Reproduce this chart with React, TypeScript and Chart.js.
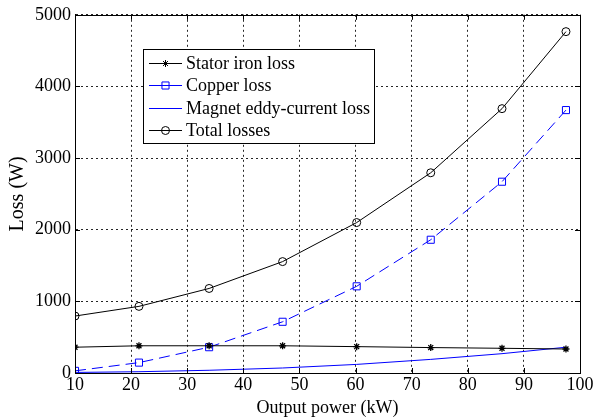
import React, { useEffect, useRef } from "react";
import { Chart, registerables } from "chart.js";

Chart.register(...registerables);

const powerKW = [10, 21.4, 33.9, 47.0, 60.2, 73.4, 86.1, 97.5];
const statorIronLoss = [360, 380, 380, 380, 368, 355, 345, 335];
const copperLoss = [30, 145, 360, 715, 1210, 1860, 2670, 3670];
const magnetEddyLoss = [8, 18, 38, 70, 120, 190, 270, 360];
const totalLosses = [795, 930, 1180, 1555, 2100, 2795, 3690, 4765];

const seriesLabels = [
  "Stator iron loss",
  "Copper loss",
  "Magnet eddy-current loss",
  "Total losses",
];

const xTicks = [10, 20, 30, 40, 50, 60, 70, 80, 90, 100];
const yTicks = [0, 1000, 2000, 3000, 4000, 5000];

const FONT = "'Liberation Serif', 'Times New Roman', serif";

function toPoints(ys: number[]) {
  return ys.map((y, i) => ({ x: powerKW[i], y }));
}

function drawMarker(ctx: CanvasRenderingContext2D, style: string, x: number, y: number, r: number, color: string) {
  ctx.save();
  ctx.strokeStyle = color;
  ctx.lineWidth = 1;
  ctx.setLineDash([]);
  ctx.beginPath();
  if (style === "circle") {
    ctx.arc(x, y, r, 0, Math.PI * 2);
  } else if (style === "rect") {
    const s = r / Math.SQRT2;
    ctx.rect(x - s, y - s, 2 * s, 2 * s);
  } else if (style === "star") {
    ctx.moveTo(x - r, y);
    ctx.lineTo(x + r, y);
    ctx.moveTo(x, y - r);
    ctx.lineTo(x, y + r);
    const d = r * Math.SQRT1_2;
    ctx.moveTo(x - d, y - d);
    ctx.lineTo(x + d, y + d);
    ctx.moveTo(x - d, y + d);
    ctx.lineTo(x + d, y - d);
  }
  ctx.stroke();
  ctx.restore();
}

const framePlugin = {
  id: "frameAndLegend",
  afterDatasetsDraw(chart: any) {
    const { ctx, chartArea, scales } = chart;
    const { left, right, top, bottom } = chartArea;
    ctx.save();
    ctx.strokeStyle = "#000";
    ctx.lineWidth = 1;
    ctx.setLineDash([]);
    // inward ticks
    const tl = 5;
    ctx.beginPath();
    xTicks.forEach((v) => {
      const px = Math.round(scales.x.getPixelForValue(v)) + 0.5;
      ctx.moveTo(px, bottom);
      ctx.lineTo(px, bottom - tl);
      ctx.moveTo(px, top);
      ctx.lineTo(px, top + tl);
    });
    yTicks.forEach((v) => {
      const py = Math.round(scales.y.getPixelForValue(v)) + 0.5;
      ctx.moveTo(left, py);
      ctx.lineTo(left + tl, py);
      ctx.moveTo(right, py);
      ctx.lineTo(right - tl, py);
    });
    ctx.stroke();
    ctx.strokeRect(Math.round(left) + 0.5, Math.round(top) + 0.5, Math.round(right - left), Math.round(bottom - top));

    // legend
    const lx = 143.5, ly = 49.5, lw = 231, lh = 94;
    ctx.fillStyle = "#fff";
    ctx.fillRect(lx, ly, lw, lh);
    ctx.strokeRect(lx, ly, lw, lh);
    const rows = [63, 85, 108, 130];
    chart.data.datasets.forEach((ds: any, i: number) => {
      const y = rows[i] + 0.5;
      ctx.strokeStyle = ds.borderColor;
      ctx.lineWidth = 1;
      ctx.setLineDash([]);
      ctx.beginPath();
      ctx.moveTo(149, y);
      ctx.lineTo(182, y);
      ctx.stroke();
      if (ds.pointRadius > 0) {
        drawMarker(ctx, ds.pointStyle, 165.5, y, ds.pointRadius, ds.borderColor);
      }
      ctx.fillStyle = "#000";
      ctx.font = `18px ${FONT}`;
      ctx.textBaseline = "middle";
      ctx.textAlign = "left";
      ctx.fillText(ds.label, 186, rows[i] + 1);
    });
    ctx.restore();
  },
};

export default function App() {
  const canvasRef = useRef<HTMLCanvasElement | null>(null);

  useEffect(() => {
    document.body.style.margin = "0";
    const canvas = canvasRef.current;
    if (!canvas) return;
    const chart = new Chart(canvas, {
      type: "line",
      data: {
        datasets: [
          {
            label: seriesLabels[0],
            data: toPoints(statorIronLoss),
            borderColor: "#000000",
            backgroundColor: "#000000",
            borderWidth: 1,
            pointStyle: "star",
            pointRadius: 3.5,
            pointBorderWidth: 1.3,
            tension: 0,
          },
          {
            label: seriesLabels[1],
            data: toPoints(copperLoss),
            borderColor: "#0000ff",
            backgroundColor: "rgba(0,0,0,0)",
            borderWidth: 1,
            borderDash: [11, 6],
            pointStyle: "rect",
            pointRadius: 5,
            pointBorderWidth: 1,
            tension: 0,
          },
          {
            label: seriesLabels[2],
            data: toPoints(magnetEddyLoss),
            borderColor: "#0000ff",
            backgroundColor: "#0000ff",
            borderWidth: 1,
            pointRadius: 0,
            tension: 0,
          },
          {
            label: seriesLabels[3],
            data: toPoints(totalLosses),
            borderColor: "#000000",
            backgroundColor: "rgba(0,0,0,0)",
            borderWidth: 1,
            pointStyle: "circle",
            pointRadius: 4,
            pointBorderWidth: 1,
            tension: 0,
          },
        ],
      },
      options: {
        animation: false,
        responsive: false,
        maintainAspectRatio: false,
        devicePixelRatio: 1,
        layout: { padding: { top: 13, right: 24, left: 0, bottom: 0 } },
        plugins: {
          legend: { display: false },
          tooltip: { enabled: false },
        },
        scales: {
          x: {
            type: "linear",
            position: "bottom",
            min: 10,
            max: 100,
            afterFit: (s: any) => {
              s.height = 44;
            },
            afterBuildTicks: (s: any) => {
              s.ticks = xTicks.map((v) => ({ value: v }));
            },
            ticks: {
              color: "#000",
              font: { family: FONT, size: 18 },
              padding: 1,
              maxRotation: 0,
              autoSkip: false,
              callback: (v: any) => String(v),
            },
            grid: {
              color: "rgba(0,0,0,0.85)",
              lineWidth: 1,
              drawTicks: false,
            },
            border: { display: true, color: "#000", dash: [2, 3] },
            title: {
              display: true,
              text: "Output power (kW)",
              color: "#000",
              font: { family: FONT, size: 18, lineHeight: 1 },
              padding: { top: 0, bottom: 0 },
            },
          },
          y: {
            type: "linear",
            position: "left",
            min: 0,
            max: 5000,
            afterFit: (s: any) => {
              s.width = 75;
            },
            afterBuildTicks: (s: any) => {
              s.ticks = yTicks.map((v) => ({ value: v }));
            },
            ticks: {
              color: "#000",
              font: { family: FONT, size: 18 },
              padding: 4,
              callback: (v: any) => String(v),
            },
            grid: {
              color: "rgba(0,0,0,0.85)",
              lineWidth: 1,
              drawTicks: false,
            },
            border: { display: true, color: "#000", dash: [2, 3] },
            title: {
              display: true,
              text: "Loss (W)",
              color: "#000",
              font: { family: FONT, size: 20, lineHeight: 1 },
              padding: { top: 8, bottom: 0 },
            },
          },
        },
      },
      plugins: [framePlugin],
    } as any);
    return () => chart.destroy();
  }, []);

  return (
    <div style={{ width: 604, height: 417 }}>
      <canvas ref={canvasRef} width={604} height={417} style={{ display: "block", width: 604, height: 417 }} />
    </div>
  );
}
